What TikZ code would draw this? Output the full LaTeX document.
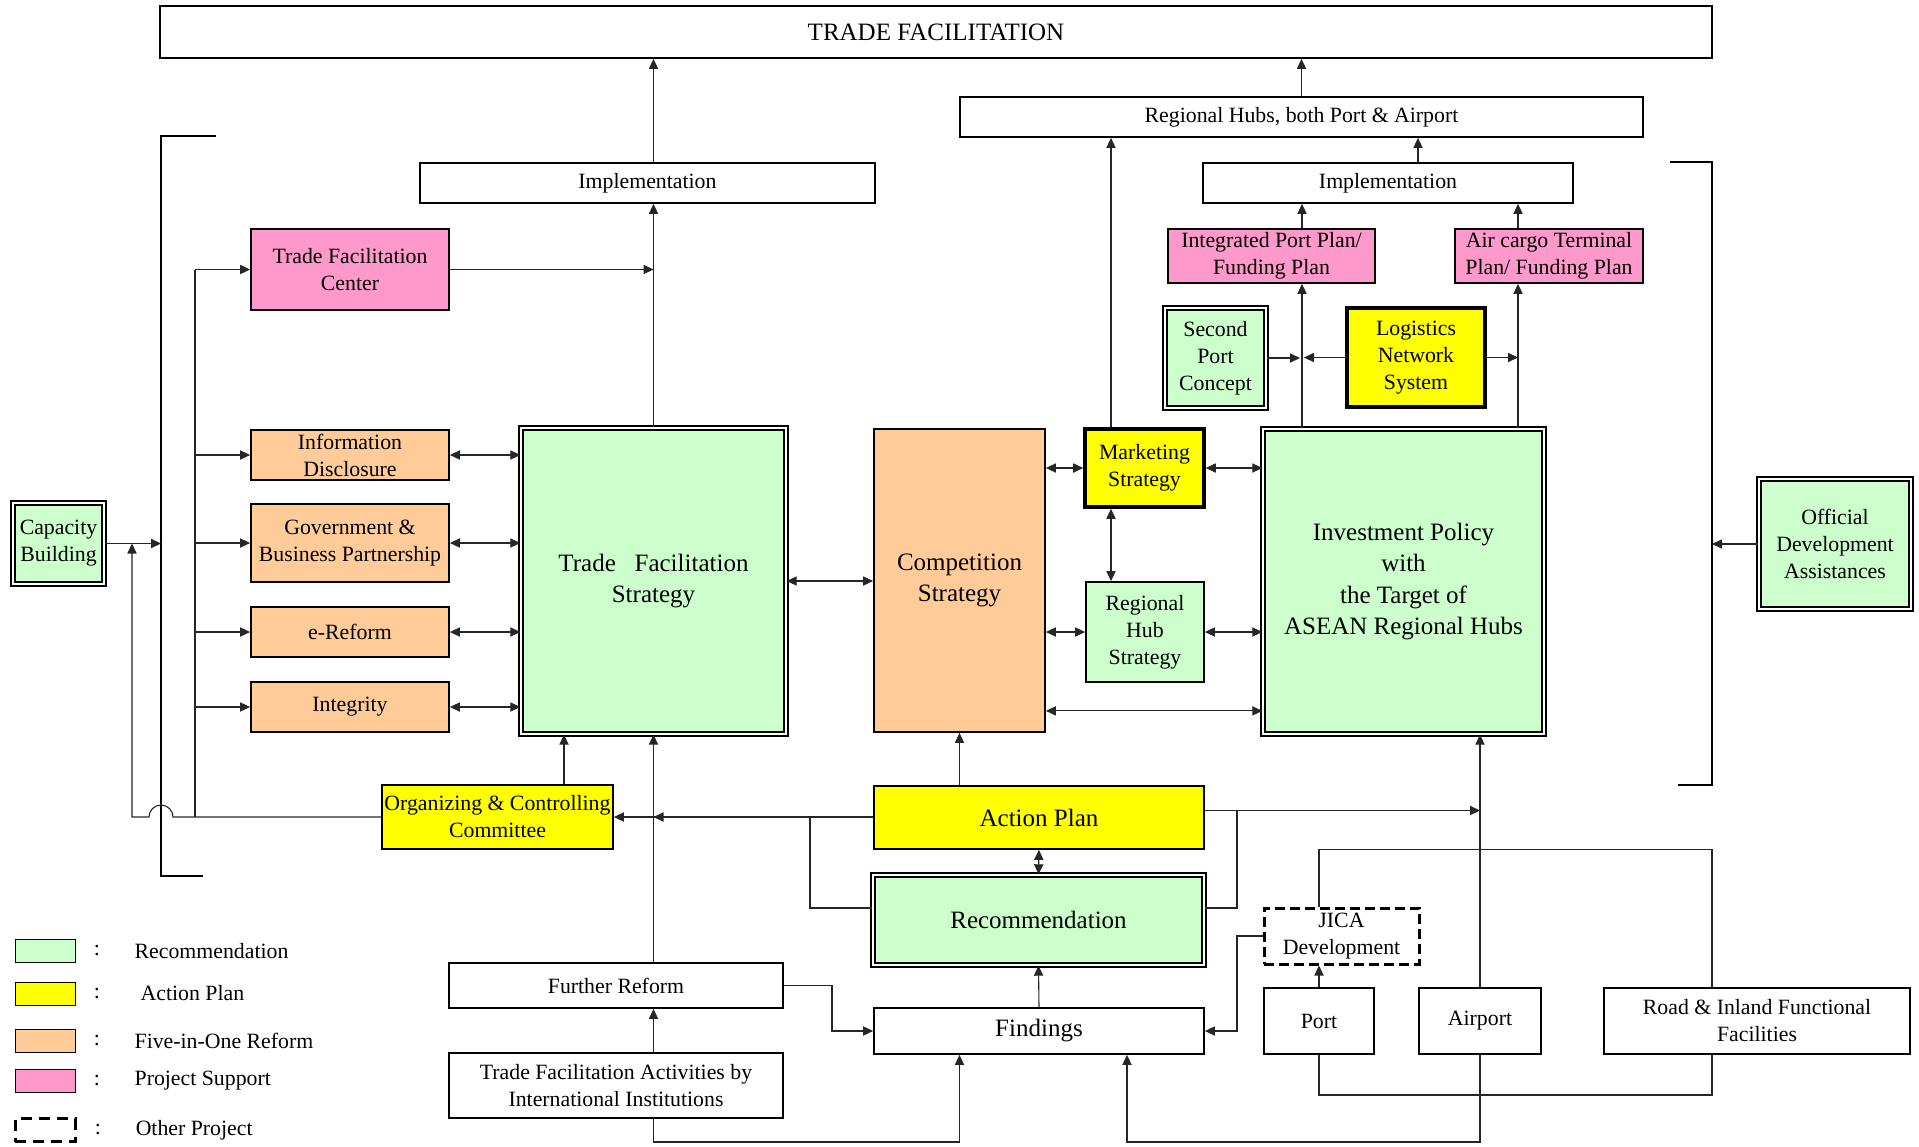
\documentclass[tikz,border=0pt]{standalone}
\usepackage{fontspec}
\setmainfont{Liberation Serif}
\usetikzlibrary{arrows.meta,positioning,calc}
\definecolor{recgreen}{HTML}{CCFFCC}
\definecolor{actyellow}{HTML}{FFFF00}
\definecolor{reformorange}{HTML}{FFCC99}
\definecolor{projpink}{HTML}{FF99CC}

\begin{document}
\begin{tikzpicture}[
x=0.5pt,y=-0.5pt,
box/.style={
  draw,
  line width=0.9pt,
  align=center,
  inner sep=0pt,
  font=\fontsize{10.9}{13.5}\selectfont
},
big/.style={font=\fontsize{12.5}{15.8}\selectfont},
recbox/.style={box,fill=recgreen,line width=0.7pt,double,double distance=1.2pt},
flatrec/.style={box,fill=recgreen},
actbox/.style={box,fill=actyellow},
thickbox/.style={line width=1.8pt},
reformbox/.style={box,fill=reformorange},
projbox/.style={box,fill=projpink},
otherbox/.style={box,line width=1.5pt,dash pattern=on 5pt off 2.5pt},
swatch/.style={draw,line width=0.4pt,inner sep=0pt,minimum width=30pt,minimum height=11.5pt},
legtext/.style={inner sep=0pt,font=\fontsize{10.9}{13.5}\selectfont},
line/.style={line width=0.55pt,draw=black!85},
arrow/.style={line,-{Triangle[length=5pt,width=4.6pt]}},
dblarrow/.style={line,{Triangle[length=5pt,width=4.6pt]}-{Triangle[length=5pt,width=4.6pt]}},
bracket/.style={line width=1pt}
]
\useasboundingbox (0,0) rectangle (1919,1147);

% goals
\node[box,big,minimum width=776pt,minimum height=26pt] (tf) at (936,32) {TRADE FACILITATION};
\node[box,minimum width=341.5pt,minimum height=20pt] (hubs) at (1301.5,117) {Regional Hubs, both Port \& Airport};
\node[box,minimum width=227.5pt,minimum height=20pt] (impl1) at (647.5,183) {Implementation};
\node[box,minimum width=185pt,minimum height=20pt] (impl2) at (1388,183) {Implementation};

% project support and port side
\node[projbox,minimum width=99pt,minimum height=40.5pt] (tfc) at (350,269.5) {Trade Facilitation\\Center};
\node[projbox,minimum width=103.5pt,minimum height=27pt] (ipp) at (1271.5,256) {Integrated Port Plan/\\Funding Plan};
\node[projbox,minimum width=94pt,minimum height=27pt] (acp) at (1549,256) {Air cargo Terminal\\Plan/ Funding Plan};
\node[recbox,minimum width=50.5pt,minimum height=50pt] (spc) at (1215.5,358) {Second\\Port\\Concept};
\node[actbox,thickbox,minimum width=69pt,minimum height=49.5pt] (lns) at (1416,357.5) {Logistics\\Network\\System};

% five-in-one reform
\node[reformbox,minimum width=99pt,minimum height=25pt] (info) at (350,455) {Information\\Disclosure};
\node[reformbox,minimum width=99pt,minimum height=39pt] (gov) at (350,543) {Government \&\\Business Partnership};
\node[reformbox,minimum width=99pt,minimum height=25pt] (erf) at (350,632) {e-Reform};
\node[reformbox,minimum width=99pt,minimum height=25pt] (integ) at (350,707) {Integrity};

% strategies
\node[recbox,big,minimum width=132.5pt,minimum height=153pt] (tfs) at (653.5,581) {Trade~~~Facilitation\\Strategy};
\node[reformbox,big,minimum width=85.5pt,minimum height=151.5pt] (comp) at (959.5,580.5) {Competition\\Strategy};
\node[actbox,thickbox,minimum width=59.5pt,minimum height=39pt] (mkt) at (1144.5,468) {Marketing\\Strategy};
\node[flatrec,minimum width=59pt,minimum height=50pt] (rhs) at (1145,632) {Regional\\Hub\\Strategy};
\node[recbox,big,minimum width=140.5pt,minimum height=152.5pt] (inv) at (1403.5,581.5) {Investment Policy\\with\\the Target of\\ASEAN Regional Hubs};
\node[recbox,minimum width=76pt,minimum height=65pt] (oda) at (1835,544) {Official\\Development\\Assistances};
\node[recbox,minimum width=45.5pt,minimum height=40.5pt] (cap) at (58.5,543.5) {Capacity\\Building};

% plan and findings
\node[actbox,minimum width=115.5pt,minimum height=32pt] (org) at (497.5,817) {Organizing \& Controlling\\Committee};
\node[actbox,big,minimum width=165pt,minimum height=31.5pt] (act) at (1039,817.5) {Action Plan};
\node[recbox,big,minimum width=165.5pt,minimum height=45pt] (rec) at (1038.5,920) {Recommendation};
\node[box,minimum width=167pt,minimum height=22.5pt] (frf) at (616,985.5) {Further Reform};
\node[box,big,minimum width=165pt,minimum height=23pt] (fnd) at (1039,1031) {Findings};
\node[box,minimum width=167pt,minimum height=32.5pt] (tfa) at (616,1085.5) {Trade Facilitation Activities by\\International Institutions};
\node[otherbox,minimum width=77.5pt,minimum height=28pt] (jica) at (1341.5,936) {JICA\\Development};
\node[box,minimum width=55pt,minimum height=33pt] (port) at (1319,1021) {Port};
\node[box,minimum width=61pt,minimum height=33pt] (airp) at (1480,1021) {Airport};
\node[box,minimum width=153pt,minimum height=33pt] (road) at (1757,1021) {Road \& Inland Functional\\Facilities};

% legend
\node[swatch,fill=recgreen] (lg1) at (45,951) {};
\node[swatch,fill=actyellow] (lg2) at (45,993.5) {};
\node[swatch,fill=reformorange] (lg3) at (45,1041) {};
\node[swatch,fill=projpink] (lg4) at (45,1081) {};
\node[swatch,line width=1.5pt,dash pattern=on 5.5pt off 3.5pt] (lg5) at (45,1130) {};
\node[legtext,right=9pt of lg1] (lc1) {:};
\node[legtext,right=9pt of lg2] (lc2) {:};
\node[legtext,right=9pt of lg3] (lc3) {:};
\node[legtext,right=9pt of lg4] (lc4) {:};
\node[legtext,right=9pt of lg5] (lc5) {:};
\node[legtext,right=17pt of lc1] (lt1) {Recommendation};
\node[legtext,right=20pt of lc2] (lt2) {Action Plan};
\node[legtext,right=17pt of lc3] (lt3) {Five-in-One Reform};
\node[legtext,right=17pt of lc4] (lt4) {Project Support};
\node[legtext,right=17pt of lc5] (lt5) {Other Project};

% brackets and line positions
\coordinate (lbtop) at (161,136);
\coordinate (lbbot) at (161,876);
\coordinate (rbtop) at (1712,162);
\coordinate (rbbot) at (1712,785);
\coordinate (fx) at (132,0);
\coordinate (dx) at (195,0);
\coordinate (ox) at (564,0);
\coordinate (bx) at (810,0);
\coordinate (kx) at (832,0);
\coordinate (mx) at (1111,0);
\coordinate (qx) at (1127,0);
\coordinate (jx) at (1237,0);
\coordinate (px) at (1302,0);
\coordinate (ix) at (1418,0);
\coordinate (ax) at (1518,0);
\coordinate (by) at (0,1095);
\coordinate (ly) at (0,1142);
\draw[bracket] ($(lbtop)+(55,0)$) -- (lbtop) -- (lbbot) -- ++(42,0);
\draw[bracket] ($(rbtop)+(-42,0)$) -- (rbtop) -- (rbbot) -- ++(-34,0);

% top
\draw[arrow] (impl1.north -| tfs.north) -- (tf.south -| tfs.north);
\draw[arrow] (hubs.north) -- (hubs.north |- tf.south);
\draw[arrow] (tfs.north) -- (tfs.north |- impl1.south);
\draw[arrow] (tfc.east) -- (tfc.east -| tfs.north);
\draw[arrow] (impl2.north -| ix) -- (hubs.south -| ix);
\draw[arrow] (mkt.north -| mx) -- (hubs.south -| mx);
\draw[arrow] (ipp.north -| px) -- (impl2.south -| px);
\draw[arrow] (acp.north -| ax) -- (impl2.south -| ax);
\draw[arrow] (inv.north -| px) -- (ipp.south -| px);
\draw[arrow] (inv.north -| ax) -- (acp.south -| ax);
\draw[arrow] (spc.east) -- ($(spc.east -| px)+(-2,0)$);
\draw[arrow] (lns.west) -- ($(lns.west -| px)+(2,0)$);
\draw[arrow] (lns.east) -- (lns.east -| ax);

% left side
\draw[arrow] (cap.east) -- (cap.east -| lbtop);
\draw[arrow] (org.west) -- ($(org.west -| lbtop)+(12,0)$)
  arc[start angle=0,end angle=180,radius=6pt] -- (org.west -| fx) -- (cap.east -| fx);
\draw[line] (org.west -| dx) -- (tfc.west -| dx);
\draw[arrow] (tfc.west -| dx) -- (tfc.west);
\draw[arrow] (info.west -| dx) -- (info.west);
\draw[arrow] (gov.west -| dx) -- (gov.west);
\draw[arrow] (erf.west -| dx) -- (erf.west);
\draw[arrow] (integ.west -| dx) -- (integ.west);
\draw[dblarrow] (info.east) -- (info.east -| tfs.west);
\draw[dblarrow] (gov.east) -- (gov.east -| tfs.west);
\draw[dblarrow] (erf.east) -- (erf.east -| tfs.west);
\draw[dblarrow] (integ.east) -- (integ.east -| tfs.west);

% middle
\draw[dblarrow] (tfs.east) -- (tfs.east -| comp.west);
\draw[dblarrow] (comp.east |- mkt.west) -- (mkt.west);
\draw[dblarrow] (comp.east |- rhs.west) -- (rhs.west);
\draw[dblarrow] (mkt.east) -- (mkt.east -| inv.west);
\draw[dblarrow] (rhs.east) -- (rhs.east -| inv.west);
\draw[dblarrow] ([yshift=11pt]comp.south east) -- ([yshift=11pt]comp.south east -| inv.west);
\draw[dblarrow] (mkt.south -| mx) -- (rhs.north -| mx);
\draw[arrow] (oda.west) -- (oda.west -| rbtop);

% bottom
\draw[arrow] (org.north -| ox) -- (tfs.south -| ox);
\draw[arrow] (frf.north -| tfs.south) -- (tfs.south);
\draw[arrow] (tfa.north -| tfs.south) -- (frf.south -| tfs.south);
\draw[arrow] (act.west |- org.east) -- (org.east);
\draw[arrow] (act.west |- org.east) -- (org.east -| tfs.south);
\draw[line] (org.east -| bx) |- ([yshift=6pt]rec.west);
\draw[arrow] (act.north -| comp.south) -- (comp.south);
\draw[dblarrow] (act.south) -- (rec.north);
\draw[arrow] (fnd.north) -- (rec.south);
\draw[arrow] ([yshift=3.5pt]act.east) -- ([yshift=3.5pt]act.east -| airp.north);
\draw[line] ([yshift=3.5pt]act.east -| jx) |- ([yshift=6pt]rec.east);
\draw[arrow] (jica.west) -- (jica.west -| jx) |- (fnd.east);
\draw[arrow] (frf.east) -- (frf.east -| kx) |- (fnd.west);
\draw[arrow] (port.north) -- (port.north |- jica.south);
\draw[line] (jica.north -| port.north) |- (act.south -| rbtop) -- (road.north -| rbtop);
\draw[arrow] (airp.north) -- (airp.north |- inv.south);
\draw[line] (port.south) |- (by -| rbtop) -- (road.south -| rbtop);
\draw[arrow] (airp.south) |- (ly -| qx) -- (fnd.south -| qx);
\draw[arrow] (tfa.south -| tfs.south) |- (ly -| comp.south) -- (fnd.south -| comp.south);
\end{tikzpicture}
\end{document}
